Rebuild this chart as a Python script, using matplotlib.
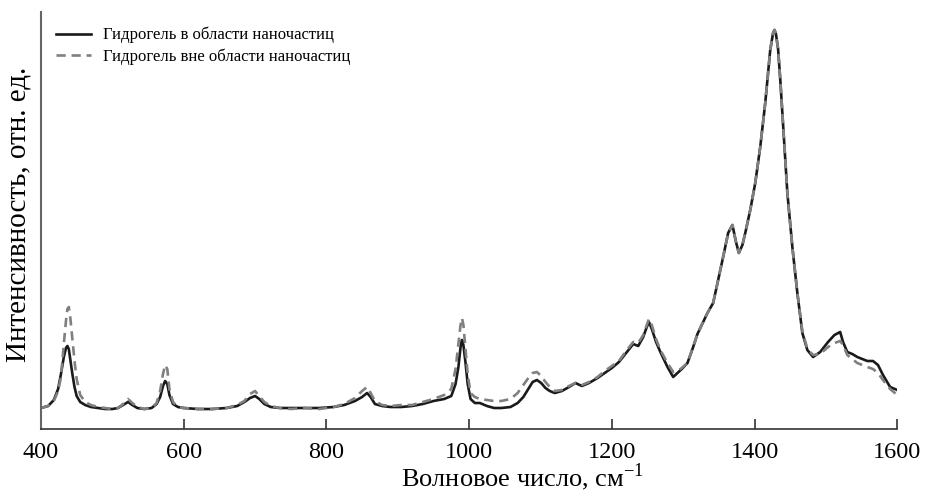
import numpy as np
import matplotlib.pyplot as plt

plt.rcParams['font.family'] = ['Liberation Serif', 'DejaVu Serif']
plt.rcParams['mathtext.fontset'] = 'custom'
plt.rcParams['mathtext.rm'] = 'Liberation Serif'

# волновое число, см-1
wn = [400, 410, 418, 424, 428, 432, 435, 437, 439, 441, 444, 447, 450, 455, 462, 470,
      480, 490, 500, 508, 515, 522, 528, 535, 545, 555, 562, 567, 571, 574, 577, 580,
      585, 592, 600, 620, 640, 660, 675, 685, 693, 700, 706, 713, 722, 735, 750, 770,
      790, 810, 825, 840, 850, 857, 862, 868, 878, 890, 905, 920, 935, 950, 965, 975,
      981, 985, 988, 990, 992, 995, 998, 1002, 1008, 1015, 1025, 1035, 1045, 1058, 1068,
      1076, 1083, 1089, 1095, 1101, 1107, 1113, 1120, 1130, 1140, 1149, 1158, 1168, 1180,
      1190, 1200, 1210, 1220, 1230, 1237, 1244, 1249, 1252, 1256, 1262, 1268, 1278, 1286,
      1292, 1298, 1306, 1314, 1320, 1326, 1334, 1342, 1349, 1356, 1363, 1369, 1374, 1378,
      1383, 1387, 1394, 1401, 1408, 1415, 1422, 1426, 1428, 1430, 1433, 1436, 1439, 1446,
      1453, 1460, 1467, 1474, 1482, 1492, 1503, 1512, 1520, 1524, 1530, 1537, 1544, 1558,
      1566, 1573, 1580, 1590, 1600]

# гидрогель в области наночастиц
inside = [21, 23, 29, 40, 55, 72, 81, 83, 80, 70, 55, 42, 33, 27, 24, 22,
          21, 20, 20, 21, 24, 27, 24, 21, 20, 21, 25, 32, 43, 48, 45, 34,
          25, 22, 21, 20, 20, 21, 23, 27, 31, 33, 30, 25, 22, 21, 21, 21,
          21, 22, 24, 28, 32, 36, 32, 25, 23, 22, 22, 23, 25, 28, 30, 33,
          45, 62, 82, 89, 84, 66, 45, 30, 26, 26, 23, 21, 21, 22, 26,
          32, 40, 47, 49, 46, 41, 38, 36, 38, 42, 46, 43, 46, 51,
          56, 61, 67, 76, 85, 83, 92, 102, 107, 100, 87, 77, 62, 52,
          56, 60, 66, 82, 95, 104, 116, 126, 149, 172, 196, 204, 187, 176,
          184, 196, 219, 246, 282, 326, 379, 396, 399, 395, 380, 350, 316, 236,
          182, 136, 96, 79, 72, 77, 87, 94, 97, 87, 77, 75, 72, 68,
          68, 64, 54, 42, 39]

# гидрогель вне области наночастиц
outside = [21, 23, 28, 38, 52, 85, 108, 120, 122, 112, 90, 68, 50, 34, 27, 24,
           22, 21, 20, 21, 25, 30, 26, 22, 20, 21, 26, 38, 55, 64, 60, 40,
           27, 22, 21, 20, 20, 21, 24, 28, 35, 38, 33, 27, 23, 21, 20, 21,
           20, 22, 25, 31, 38, 42, 36, 28, 24, 23, 24, 24, 27, 30, 34, 40,
           60, 85, 104, 111, 104, 80, 55, 36, 32, 30, 29, 28, 28, 30, 36,
           44, 51, 56, 57, 53, 47, 42, 38, 39, 43, 46, 44, 47, 52,
           58, 63, 68, 78, 87, 86, 94, 104, 110, 104, 90, 79, 66, 57,
           58, 61, 66, 82, 95, 104, 116, 126, 149, 172, 196, 204, 187, 176,
           184, 196, 219, 246, 282, 326, 379, 396, 399, 395, 380, 350, 316, 236,
           182, 136, 98, 80, 74, 75, 82, 86, 88, 84, 74, 70, 66, 62,
           60, 56, 49, 40, 34]

fig = plt.figure(figsize=(9.25, 4.93), dpi=100)
ax = fig.add_axes([0.0443, 0.1298, 0.9257, 0.8459])

ax.plot(wn, inside, color='#1a1a1a', lw=1.9, label='Гидрогель в области наночастиц')
ax.plot(wn, outside, color='#808080', lw=1.9, dashes=(3.5, 2.2),
        label='Гидрогель вне области наночастиц')

ax.set_xlim(400, 1600)
ax.set_ylim(0, 417)
ax.set_xticks([400, 600, 800, 1000, 1200, 1400, 1600])
ax.set_yticks([])
ax.tick_params(axis='x', direction='in', length=7, width=1.2, labelsize=17.5, pad=9,
               color='#333333')
for s in ['top', 'right']:
    ax.spines[s].set_visible(False)
ax.spines['left'].set_color('#666666')
ax.spines['left'].set_linewidth(1.5)
ax.spines['bottom'].set_color('#333333')
ax.spines['bottom'].set_linewidth(1.2)

ax.set_xlabel('Волновое число, см$^{-1}$', fontsize=19)
ax.xaxis.set_label_coords(0.562, -0.078)
ax.set_ylabel('Интенсивность, отн. ед.', fontsize=21)
ax.yaxis.set_label_coords(-0.011, 0.515)

ax.legend(loc='upper left', frameon=False, fontsize=12, handlelength=2.1,
          handletextpad=0.7, bbox_to_anchor=(0.0, 1.0), labelspacing=0.3)

fig.savefig('out.png', dpi=100)
